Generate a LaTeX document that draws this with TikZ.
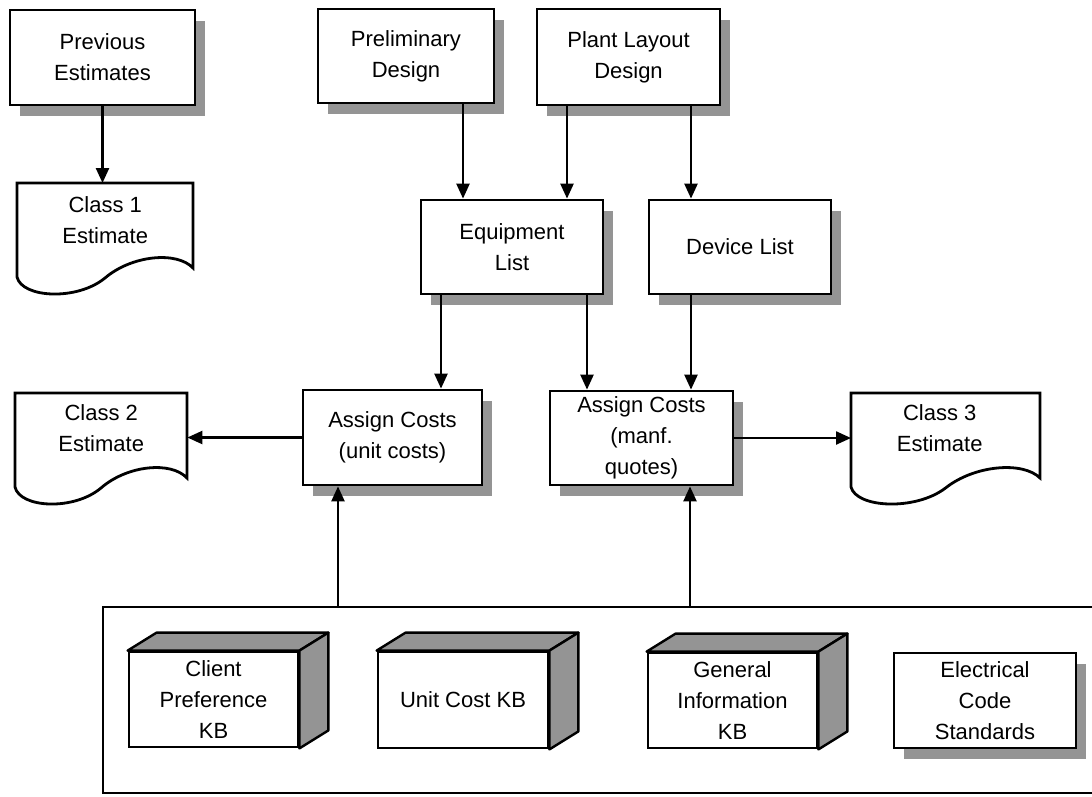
\documentclass[tikz,border=0pt]{standalone}
\usepackage{fontspec}
\setmainfont{Liberation Sans}
\usetikzlibrary{arrows.meta,calc,shadows}

\colorlet{shade}{black!42}

% document outline (wavy bottom) around a node; #2 = horizontal scale
\newcommand\docoutline[2]{%
  \begin{scope}[shift={(#1.north west)}, xscale=#2]
    \draw[docline] (0,0) -- (176,0) -- (176,85)
      .. controls (160,68) and (115,72) .. (88,95)
      .. controls (60,118) and (5,115) .. (0,94) -- cycle;
  \end{scope}}

% top and side faces of a 3-D block
\newcommand\cubefaces[1]{%
  \draw[face] (#1.north west) -- ++(29,-18) -- ($(#1.north east)+(29,-18)$) -- (#1.north east) -- cycle;
  \draw[face] (#1.north east) -- ++(29,-18) -- ($(#1.south east)+(29,-18)$) -- (#1.south east) -- cycle;}

\begin{document}
\begin{tikzpicture}[x=1pt,y=-1pt,
  every node/.style={font=\fontsize{22}{31}\selectfont, align=center},
  box/.style={draw, line width=2.8pt, fill=white, inner sep=0pt},
  shadowed/.style={general shadow={shadow xshift=10pt, shadow yshift=-11pt, fill=shade}},
  docnode/.style={inner sep=0pt, minimum height=84pt},
  docline/.style={draw, line width=2.8pt, fill=white},
  face/.style={draw, line width=2.4pt, fill=shade, line join=round},
  arr/.style={line width=2.4pt, -{Triangle[length=15pt,width=13pt]}},
  panel/.style={draw, line width=2.2pt, inner sep=0pt}
]
\useasboundingbox (0,0) rectangle (1092,796);

% knowledge panel
\node[panel, anchor=north west, minimum width=1000pt, minimum height=186pt] (panel) at (102,606) {};

% source boxes
\node[box, shadowed, minimum width=185pt, minimum height=95pt] (prev) at (102.5,57.5) {Previous\\Estimates};
\node[box, shadowed, minimum width=176pt, minimum height=94pt] (prelim) at (406,56) {Preliminary\\Design};
\node[box, shadowed, minimum width=183pt, minimum height=96pt] (plant) at (628.5,57) {Plant Layout\\Design};

% lists
\node[box, shadowed, minimum width=182pt, minimum height=94pt] (equip) at (512,247) {Equipment\\List};
\node[box, shadowed, minimum width=182pt, minimum height=94pt] (device) at (740,247) {Device List};

% costing steps
\node[box, shadowed, minimum width=179pt, minimum height=95pt] (unit) at (392.5,437.5) {Assign Costs\\(unit costs)};
\node[box, shadowed, minimum width=183pt, minimum height=94pt] (manf) at (641.5,438) {Assign Costs\\(manf.\\quotes)};

% estimate documents
\node[docnode, anchor=north west, minimum width=176pt] (class1) at (17,183) {};
\docoutline{class1}{1}
\node at ($(class1)+(0,-5)$) {Class 1\\Estimate};
\node[docnode, anchor=north west, minimum width=172pt] (class2) at (15,393) {};
\docoutline{class2}{0.977}
\node at ($(class2)+(0,-7)$) {Class 2\\Estimate};
\node[docnode, anchor=north west, minimum width=189pt] (class3) at (851,393) {};
\docoutline{class3}{1.074}
\node at ($(class3)+(-6,-7)$) {Class 3\\Estimate};

% knowledge bases
\node[box, minimum width=169pt, minimum height=95pt] (client) at (213.5,699.5) {Client\\Preference\\KB};
\cubefaces{client}
\node[box, minimum width=170pt, minimum height=96pt] (unitkb) at (463,700) {Unit Cost KB};
\cubefaces{unitkb}
\node[box, minimum width=169pt, minimum height=95pt] (geninfo) at (732.5,700.5) {General\\Information\\KB};
\cubefaces{geninfo}
\node[box, shadowed, minimum width=182pt, minimum height=95pt] (elec) at (985,700.5) {Electrical\\Code\\Standards};

% flows
\draw[arr] (prev.south) -- (prev.south |- class1.north);
\draw[arr] ([xshift=57pt]prelim.south) -- ([xshift=57pt]prelim.south |- equip.north);
\draw[arr] ([xshift=-61.5pt]plant.south) -- ([xshift=-61.5pt]plant.south |- equip.north);
\draw[arr] ([xshift=62.5pt]plant.south) -- ([xshift=62.5pt]plant.south |- device.north);
\draw[arr] ([xshift=-71pt]equip.south) -- ([xshift=-71pt]equip.south |- unit.north);
\draw[arr] ([xshift=75pt]equip.south) -- ([xshift=75pt]equip.south |- manf.north);
\draw[arr] ([xshift=-49pt]device.south) -- ([xshift=-49pt]device.south |- manf.north);
\draw[arr] (unit.west) -- (unit.west -| class2.east);
\draw[arr] (manf.east) -- (manf.east -| class3.west);
\draw[arr] ([xshift=-54.5pt]unit.south |- panel.north) -- ([xshift=-54.5pt]unit.south);
\draw[arr] ([xshift=48.5pt]manf.south |- panel.north) -- ([xshift=48.5pt]manf.south);
\end{tikzpicture}
\end{document}
